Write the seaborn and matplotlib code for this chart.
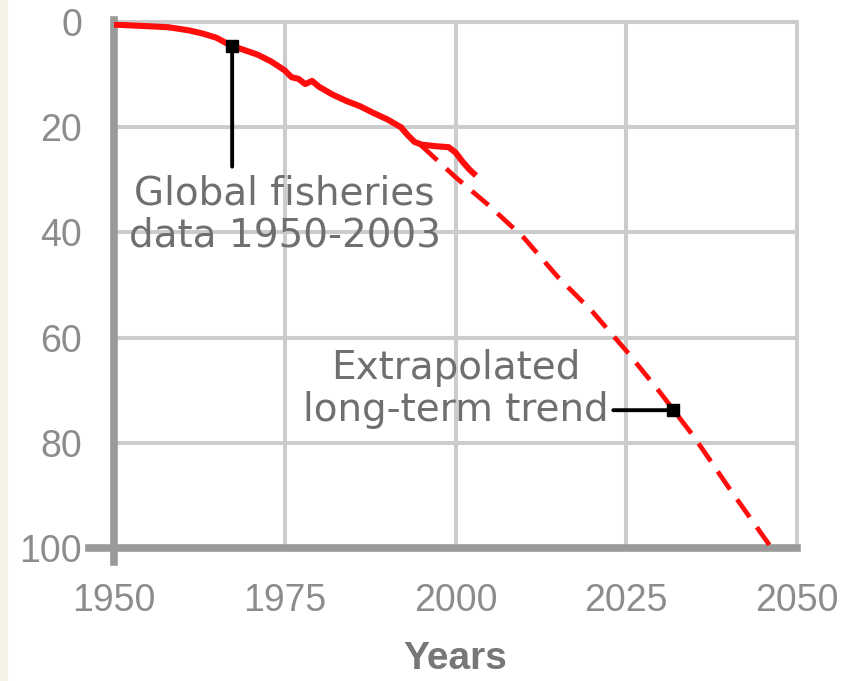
import matplotlib
matplotlib.use('Agg')
import matplotlib.pyplot as plt
import seaborn as sns
from matplotlib.patches import Rectangle

# observed global fisheries data, 1950-2003
obsYears = [1950, 1955, 1958, 1961, 1963, 1965, 1967, 1969, 1971, 1973, 1975,
            1976, 1977, 1978, 1979, 1980, 1982, 1984, 1986, 1988, 1990, 1992,
            1993, 1994, 1995, 1997, 1999, 2000, 2001, 2002, 2003]
obsValues = [0.5, 0.8, 1.0, 1.6, 2.2, 3.0, 4.4, 5.3, 6.2, 7.5, 9.2,
             10.5, 10.8, 11.8, 11.2, 12.3, 13.8, 15.0, 16.0, 17.3, 18.5, 20.0,
             21.5, 22.8, 23.3, 23.6, 23.8, 24.8, 26.5, 28.0, 29.2]

# extrapolated long-term trend
trendYears = [1995, 2000, 2005, 2010, 2015, 2020, 2025, 2030, 2035, 2040, 2046]
trendValues = [23.5, 29.5, 35.0, 41.0, 48.5, 55.0, 62.5, 70.5, 79.0, 88.5, 99.5]

xTicks = [1950, 1975, 2000, 2025, 2050]
yTicks = [0, 20, 40, 60, 80, 100]

obsLabel = 'Global fisheries\ndata 1950-2003'
trendLabel = 'Extrapolated\nlong-term trend'
obsPoint = (1967.3, 4.6)
trendPoint = (2031.8, 73.8)


def main() -> None:

    sns.set_style('white')
    plt.rcParams['font.family'] = ['DejaVu Sans']

    fig = plt.figure(figsize = (8.41, 6.81), dpi = 100)
    fig.add_artist(Rectangle((0, 0), 7 / 841, 1, transform = fig.transFigure,
                             color = '#f5f2e6', zorder = 0))

    ax = fig.add_axes([114 / 841, 1 - 548 / 681, 683 / 841, 526 / 681])

    sns.lineplot(x = trendYears, y = trendValues, ax = ax, color = '#ff0d0d',
                 lw = 3.4, ls = (0, (4.6, 2.6)), zorder = 3)
    sns.lineplot(x = obsYears, y = obsValues, ax = ax, color = '#ff0d0d',
                 lw = 4.4, zorder = 4, solid_capstyle = 'butt')

    # pointer lines with black square ends
    ax.annotate('', xy = obsPoint, xytext = (obsPoint[0], 27.5),
                arrowprops = dict(arrowstyle = '-', lw = 2.8, color = 'black',
                                  shrinkA = 0, shrinkB = 0), zorder = 5)
    ax.annotate('', xy = trendPoint, xytext = (2023.1, trendPoint[1]),
                arrowprops = dict(arrowstyle = '-', lw = 2.8, color = 'black',
                                  shrinkA = 0, shrinkB = 0), zorder = 5)
    ax.plot(*zip(obsPoint, trendPoint), ls = 'none', marker = 's', ms = 8.5,
            color = 'black', zorder = 6)

    ax.text(1975.0, 36.6, obsLabel, ha = 'center', va = 'center',
            fontsize = 28, color = '#6f6f6f', linespacing = 1.13)
    ax.text(2000.0, 69.8, trendLabel, ha = 'center', va = 'center',
            fontsize = 28, color = '#6f6f6f', linespacing = 1.13)

    ax.set_xlim(1950, 2050)
    ax.set_ylim(100, 0)
    ax.set_xticks(xTicks)
    ax.set_yticks(yTicks)
    ax.set_xlabel('Years', fontsize = 28, fontweight = 'bold', color = '#777777',
                  family = 'Liberation Sans', labelpad = 16)
    ax.set_ylabel('')

    ax.grid(True, color = '#cccccc', lw = 2.9, clip_on = False)
    ax.set_axisbelow(True)
    ax.tick_params(axis = 'both', colors = '#cccccc', width = 2.9,
                   labelsize = 27, labelcolor = '#8c8c8c')
    ax.tick_params(axis = 'y', length = 17, pad = 6)
    ax.tick_params(axis = 'x', length = 10, pad = 15)
    for label in ax.get_xticklabels() + ax.get_yticklabels():
        label.set_family('Liberation Sans')

    for side in ['top', 'right']:
        ax.spines[side].set_visible(False)
    for side in ['left', 'bottom']:
        ax.spines[side].set_color('#9a9a9a')
        ax.spines[side].set_linewidth(5.5)
        ax.spines[side].set_zorder(2.5)
    ax.spines['left'].set_bounds(102.7, -0.4)
    ax.spines['bottom'].set_bounds(1946.4, 2050)

    plt.savefig('out.png', dpi = 100)


if __name__ == '__main__': main()
